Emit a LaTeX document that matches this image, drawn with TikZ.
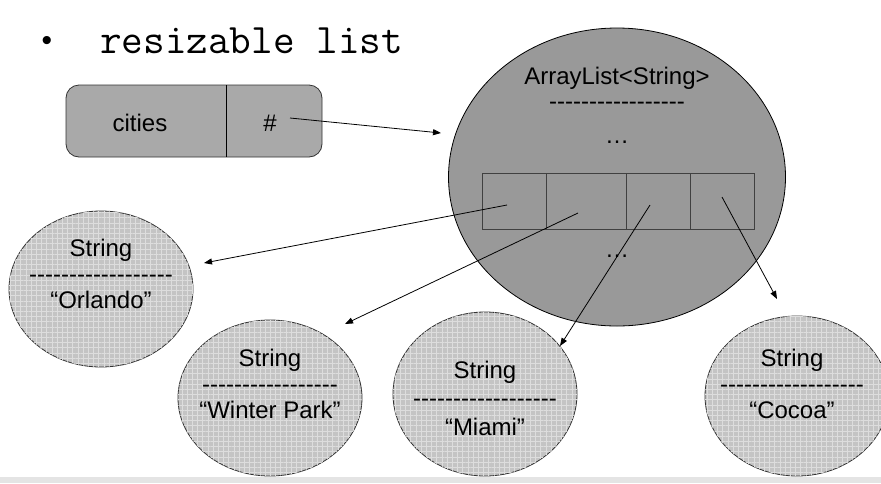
\documentclass[tikz,border=0pt]{standalone}
\usepackage{fontspec}
\setmainfont{Liberation Sans}
\usetikzlibrary{shapes.geometric,arrows.meta,patterns.meta}
\definecolor{boxgray}{HTML}{A9A9A9}
\definecolor{biggray}{HTML}{999999}
\definecolor{strgray}{HTML}{C4C4C4}
\definecolor{gridline}{HTML}{DDDDDD}
\definecolor{bandgray}{HTML}{E4E4E4}
\definecolor{cellline}{HTML}{404040}
\newcount\dashcnt
\newcommand\dashline[1]{\dashcnt=#1\relax\loop\hbox{-}\advance\dashcnt by -1\relax\ifnum\dashcnt>0 \repeat}
\tikzset{
  txt/.style={font=\fontsize{24}{26}\selectfont, inner sep=0pt, align=center},
  strobj/.style={ellipse, draw=black!80, line width=0.8pt, fill=strgray,
    minimum width=184pt, minimum height=156pt, inner sep=0pt,
    postaction={pattern={Hatch[angle=0,distance=5.2pt,line width=0.7pt]}, pattern color=gridline}},
  bigobj/.style={ellipse, draw=black, line width=0.8pt, fill=biggray,
    minimum width=337pt, minimum height=298pt, inner sep=0pt},
  cell/.style={rectangle, draw=cellline, line width=1pt, minimum height=56pt, inner sep=0pt},
  ptr/.style={line width=0.8pt, -{Triangle[length=8pt,width=6pt]}},
}
\begin{document}
\begin{tikzpicture}[x=1pt,y=-1pt]
\useasboundingbox (0,0) rectangle (881,483);
\fill[white] (0,0) rectangle (881,483);
% title
\node[inner sep=0pt] (bullet) at (47,43) {\fontsize{30}{30}\selectfont •};
\node[inner sep=0pt, anchor=base west] (title) at (100,53) {\ttfamily\fontsize{42}{42}\selectfont resizable list};
% variable box
\node[draw=black!80, line width=0.8pt, fill=boxgray, rounded corners=13pt, minimum width=256pt, minimum height=72pt, inner sep=0pt] (var) at (194,121) {};
\draw[line width=1pt] (226,85) -- (226,157);
\node[txt] (cities) at (140,123) {cities};
\node[txt] (hash) at (270,123) {\#};
% big object
\node[bigobj] (list) at (617,177) {};
\node[txt] (ltype) at (617,78) {ArrayList<String>};
\node[txt] (ldash) at (617,106) {\dashline{17}};
\node[txt] (ldots1) at (617,142) {…};
\node[cell, minimum width=64pt] (c1) at (514,201) {};
\node[cell, minimum width=80pt] (c2) at (586,201) {};
\node[cell, minimum width=64pt] (c3) at (658,201) {};
\node[cell, minimum width=64pt] (c4) at (722,201) {};
\node[txt] (ldots2) at (617,256) {…};
% string objects
\node[strobj] (orl) at (101,289) {};
\node[txt] (orltxt) at (101,274) {String\\\dashline{18}\\“Orlando”};
\node[strobj] (wp) at (270,398) {};
\node[txt] (wptxt) at (270,384) {String\\\dashline{17}\\“Winter Park”};
\node[strobj, minimum height=164pt] (mia) at (485,394) {};
\node[txt, font=\fontsize{24}{28.5}\selectfont] (miatxt) at (485,398) {String\\\dashline{18}\\“Miami”};
\node[strobj, minimum height=160pt] (coc) at (797,396) {};
\node[txt] (coctxt) at (792,384) {String\\\dashline{18}\\“Cocoa”};
% band
\fill[bandgray] (0,477) rectangle (881,483);
% pointers
\coordinate (hp) at (290,118);
\coordinate (hpe) at (441,133);
\draw[ptr] (hp) -- (hpe);
\coordinate (p1) at (507,205);
\coordinate (t1) at (204,263);
\coordinate (p2) at (578,213);
\coordinate (t2) at (345,324);
\coordinate (p3) at (650,205);
\coordinate (t3) at (560,346);
\coordinate (p4) at (722,197);
\coordinate (t4) at (777,299);
\draw[ptr] (p1) -- (t1);
\draw[ptr] (p2) -- (t2);
\draw[ptr] (p3) -- (t3);
\draw[ptr] (p4) -- (t4);
\end{tikzpicture}
\end{document}
